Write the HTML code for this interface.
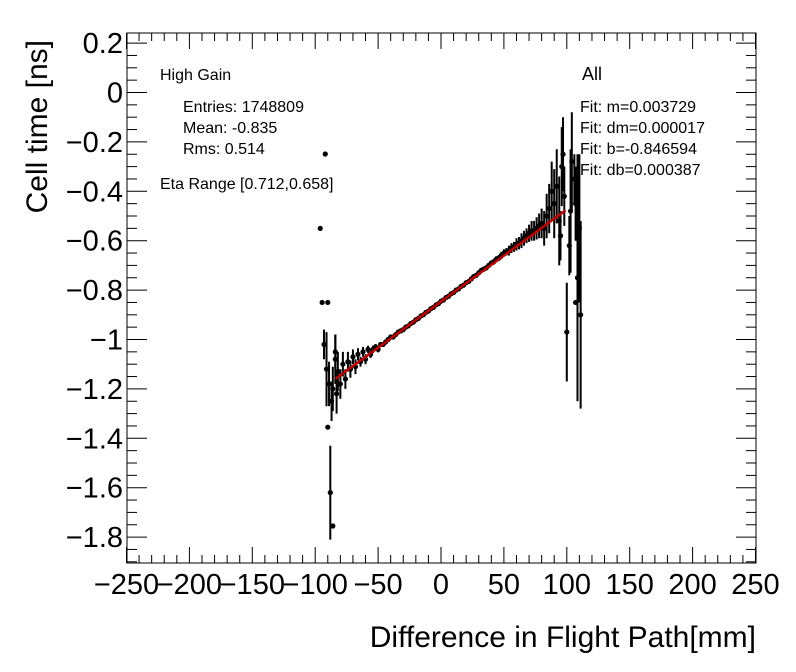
<!DOCTYPE html>
<html><head><meta charset="utf-8"><style>
body{margin:0;background:#fff}
svg{display:block;font-family:"Liberation Sans",sans-serif}
</style></head><body>
<svg id="c" width="796" height="672">
<rect width="796" height="672" fill="#fff"/>
<g id="axes"></g>
<g id="pts"></g>
<g id="fit"></g>
<text x="160" y="80" font-size="16">High Gain</text>
<text x="183" y="112" font-size="16">Entries: 1748809</text>
<text x="183" y="133" font-size="16">Mean: -0.835</text>
<text x="183" y="154" font-size="16">Rms: 0.514</text>
<text x="160" y="189" font-size="16">Eta Range [0.712,0.658]</text>
<text x="582" y="80" font-size="18">All</text>
<text x="580" y="112" font-size="16">Fit: m=0.003729</text>
<text x="580" y="133" font-size="16">Fit: dm=0.000017</text>
<text x="580" y="154" font-size="16">Fit: b=-0.846594</text>
<text x="580" y="175" font-size="16">Fit: db=0.000387</text>
<text x="756" y="647" font-size="30" text-anchor="end">Difference in Flight Path[mm]</text>
<text transform="translate(47,40) rotate(-90)" font-size="30" text-anchor="end">Cell time [ns]</text>
</svg>
<script>
const xTicks=[-250,-200,-150,-100,-50,0,50,100,150,200,250];
const yTicks=[0.2,0,-0.2,-0.4,-0.6,-0.8,-1,-1.2,-1.4,-1.6,-1.8];
const mainX=[-86,-84,-82,-80,-78,-76,-74,-72,-70,-68,-66,-64,-62,-60,-58,-56,-54,-52,-50,-48,-46,-44,-42,-40,-38,-36,-34,-32,-30,-28,-26,-24,-22,-20,-18,-16,-14,-12,-10,-8,-6,-4,-2,0,2,4,6,8,10,12,14,16,18,20,22,24,26,28,30,32,34,36,38,40,42,44,46,48,50,52,54,56,58,60,62,64,66,68,70,72,74,76,78,80,82,84,86,88,90,92,94,96,98];
const mainY=[-1.20,-1.08,-1.13,-1.18,-1.10,-1.16,-1.09,-1.12,-1.07,-1.11,-1.06,-1.09,-1.05,-1.08,-1.04,-1.06,-1.04,-1.03,-1.04,-1.02,-1.02,-1.01,-1.00,-0.99,-0.99,-0.98,-0.97,-0.965,-0.96,-0.95,-0.945,-0.935,-0.93,-0.92,-0.915,-0.905,-0.90,-0.89,-0.885,-0.875,-0.87,-0.86,-0.855,-0.845,-0.84,-0.83,-0.825,-0.815,-0.81,-0.80,-0.795,-0.785,-0.78,-0.77,-0.765,-0.755,-0.745,-0.74,-0.73,-0.72,-0.715,-0.71,-0.70,-0.69,-0.685,-0.675,-0.67,-0.66,-0.65,-0.645,-0.64,-0.63,-0.625,-0.615,-0.61,-0.60,-0.59,-0.58,-0.57,-0.56,-0.56,-0.55,-0.54,-0.53,-0.55,-0.50,-0.47,-0.40,-0.45,-0.38,-0.52,-0.30,-0.42];
const mainErr=[0.09,0.10,0.08,0.06,0.05,0.04,0.04,0.035,0.03,0.03,0.025,0.02,0.02,0.02,0.015,0.015,0.015,0.012,0.012,0.01,0.01,0.01,0.01,0.01,0.01,0.008,0.008,0.008,0.008,0.008,0.008,0.008,0.008,0.008,0.008,0.008,0.008,0.008,0.008,0.008,0.008,0.008,0.008,0.008,0.008,0.008,0.008,0.008,0.008,0.008,0.008,0.008,0.008,0.008,0.008,0.008,0.008,0.008,0.01,0.01,0.01,0.01,0.01,0.01,0.012,0.012,0.012,0.015,0.015,0.015,0.02,0.02,0.02,0.025,0.025,0.03,0.03,0.03,0.035,0.04,0.04,0.045,0.05,0.06,0.07,0.09,0.10,0.12,0.14,0.15,0.18,0.16,0.12];
const outX=[-92,-96,-94.5,-90,-91,-90,-88,-86,-87,-93,-89,-84,-83,100,107,108.5,111,110,107,106,102,104,95,97,103];
const outY=[-0.249,-0.55,-0.85,-0.85,-1.12,-1.355,-1.62,-1.755,-1.25,-1.02,-1.18,-1.05,-1.22,-0.97,-0.85,-0.75,-0.90,-0.55,-0.45,-0.35,-0.62,-0.28,-0.58,-0.25,-0.48];
const outErr=[0,0,0,0,0.15,0,0.19,0,0.08,0.06,0.09,0.07,0.08,0.2,0,0.5,0.38,0.3,0.15,0.1,0.12,0.2,0.1,0.15,0.25];
const fitM=0.003729, fitB=-0.846594, fitRange=[-84,99];

const L=127,R=756,T=33,B=563;
const X=v=>441+(v)*1.258;
const Y=v=>92.5-v*247;
const NS='http://www.w3.org/2000/svg';
function mk(p,tag,a){const e=document.createElementNS(NS,tag);for(const k in a)e.setAttribute(k,a[k]);p.appendChild(e);return e;}
const ax=document.getElementById('axes');
const fr=mk(ax,'rect',{x:L,y:T,width:R-L,height:B-T,fill:'none',stroke:'#000','stroke-width':1});


for(let v=-250;v<=250;v+=10){
  const major=v%50===0, len=major?16:8, x=X(v);
  const t1=mk(ax,'line',{x1:x,x2:x,y1:B,y2:B-len,stroke:'#000'});
  
  
  const t2=mk(ax,'line',{x1:x,x2:x,y1:T,y2:T+len,stroke:'#000'});
  
  
}
xTicks.forEach(v=>{
  const t=mk(ax,'text',{x:X(v),y:594,'font-size':29,'text-anchor':'middle'});
  t.textContent=(v<0?'\u2212'+(-v):v);
  
  
});
for(let i=-38;i<=4;i++){
  const v=i*0.05, major=i%4===0, len=major?20:10, y=Y(v);
  if(y<T||y>B)continue;
  const t1=mk(ax,'line',{x1:L,x2:L+len,y1:y,y2:y,stroke:'#000'});
  
  
  const t2=mk(ax,'line',{x1:R,x2:R-len,y1:y,y2:y,stroke:'#000'});
  
  
}
yTicks.forEach(v=>{
  const t=mk(ax,'text',{x:123,y:Y(v)+10,'font-size':29,'text-anchor':'end'});
  t.textContent=(v<0?'\u2212'+String(-v):String(v));
  
  
});
const pg=document.getElementById('pts');
function pt(x,y,e){
  if(e>0){const l=mk(pg,'line',{x1:X(x),x2:X(x),y1:Math.max(T,Y(y+e)),y2:Math.min(B,Y(y-e)),stroke:'#000','stroke-width':2});
  
  }
  const c=mk(pg,'circle',{cx:X(x),cy:Y(y),r:2.6,fill:'#000'});
  
  
}
mainX.forEach((x,i)=>pt(x,mainY[i],mainErr[i]));
outX.forEach((x,i)=>pt(x,outY[i],outErr[i]));
const fl=mk(document.getElementById('fit'),'line',{x1:X(fitRange[0]),y1:Y(fitB+fitM*fitRange[0]),x2:X(fitRange[1]),y2:Y(fitB+fitM*fitRange[1]),stroke:'#c00000','stroke-width':2.5});


</script>
</body></html>
